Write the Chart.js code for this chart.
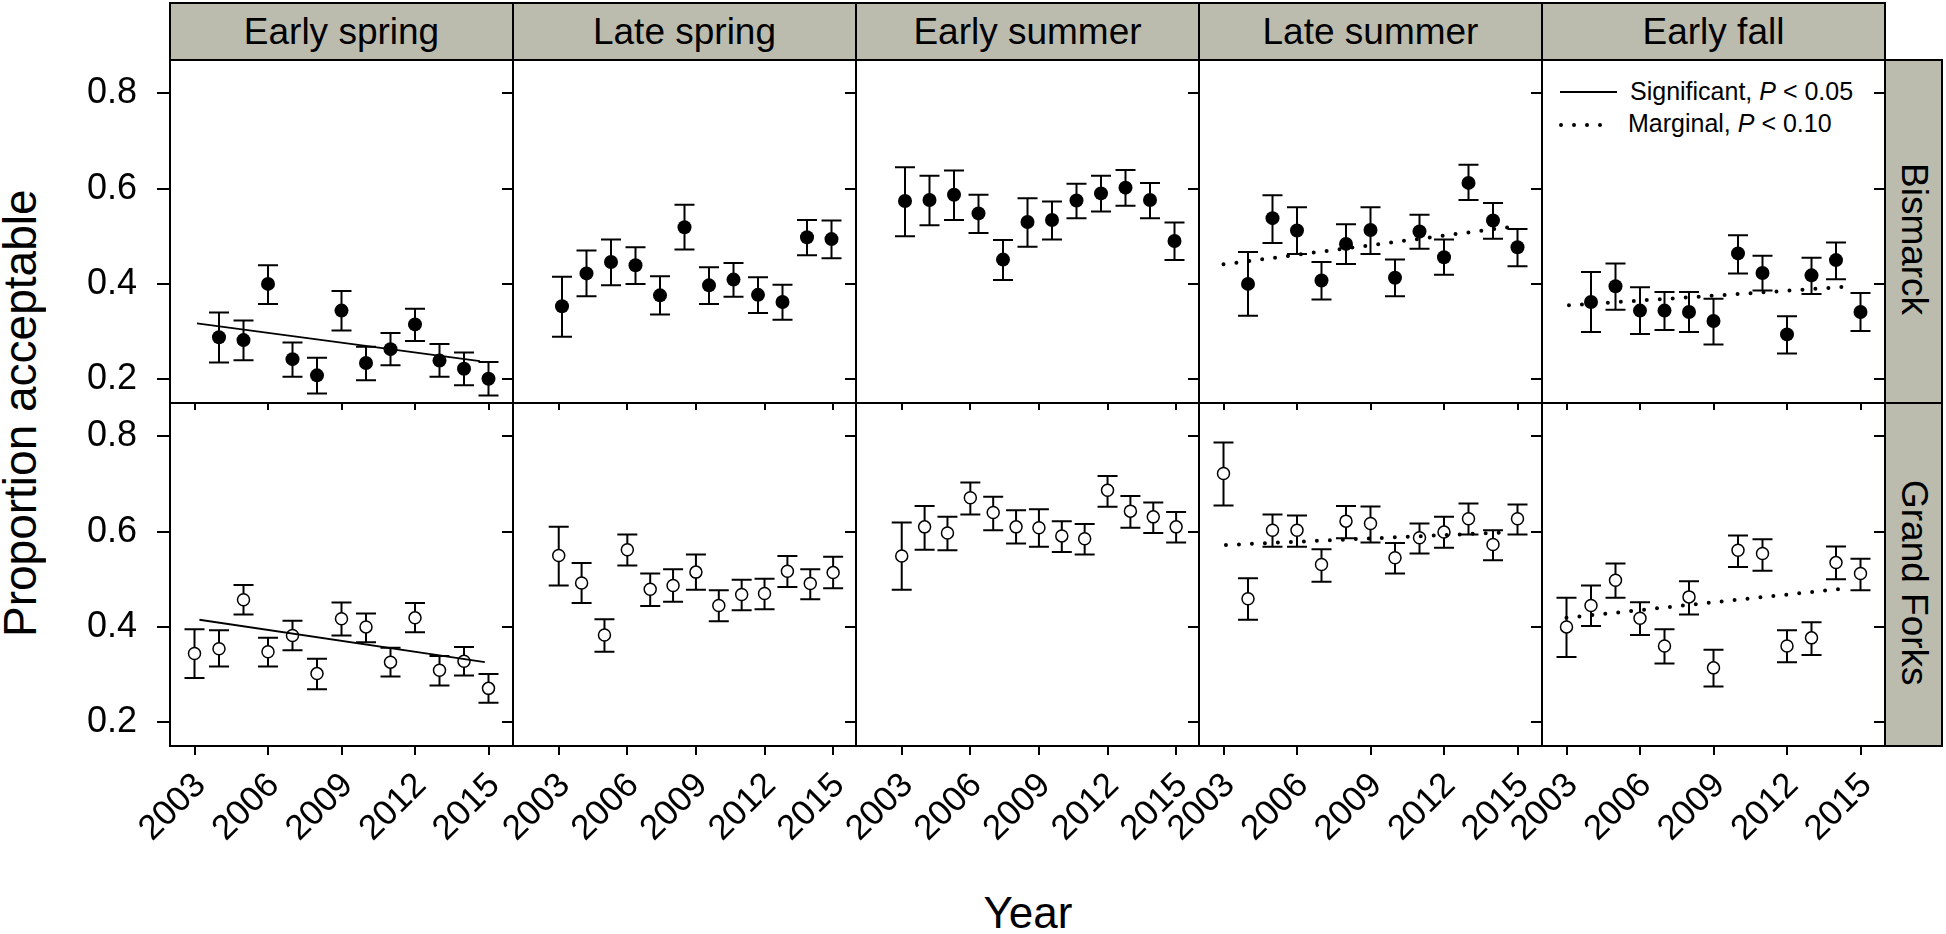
<!DOCTYPE html>
<html>
<head>
<meta charset="utf-8">
<script src="https://cdn.jsdelivr.net/npm/chart.js@4.4.1/dist/chart.umd.min.js"></script>
<style>
html,body{margin:0;padding:0;background:#fff;}
body{width:1946px;height:934px;position:relative;overflow:hidden;font-family:"Liberation Sans",Arial,sans-serif;color:#000;}
canvas{position:absolute;}
.strip{position:absolute;background:#bcbcae;border:2px solid #000;box-sizing:border-box;display:flex;align-items:center;justify-content:center;font-size:37px;white-space:nowrap;}
.vstrip{writing-mode:vertical-rl;padding-top:16px;}
#ylab{position:absolute;left:-3px;top:70px;height:686px;width:46px;writing-mode:vertical-rl;transform:rotate(180deg);text-align:center;line-height:46px;font-size:46px;white-space:nowrap;}
#xlab{position:absolute;left:828px;width:400px;top:891px;text-align:center;font-size:44px;line-height:44px;}
.legtxt{position:absolute;font-size:25px;line-height:25px;white-space:nowrap;}
#legsvg{position:absolute;left:1555px;top:80px;}
</style>
</head>
<body>
<div id="ylab">Proportion acceptable</div>
<div id="xlab">Year</div>
<svg id="legsvg" width="70" height="56">
  <line x1="5" y1="12" x2="62" y2="12" stroke="#000" stroke-width="1.8"/>
  <line x1="6" y1="45" x2="52" y2="45" stroke="#000" stroke-width="4" stroke-linecap="round" stroke-dasharray="0 13"/>
</svg>
<div class="legtxt" style="left:1630px;top:79px;">Significant, <i>P</i> &lt; 0.05</div>
<div class="legtxt" style="left:1628px;top:111px;">Marginal, <i>P</i> &lt; 0.10</div>
<script>
// ---------------- data ----------------
const seasons = ['Early spring', 'Late spring', 'Early summer', 'Late summer', 'Early fall'];
const sites = ['Bismarck', 'Grand Forks'];
const yTickValues = [0.2, 0.4, 0.6, 0.8];
const xTickValues = [2003, 2006, 2009, 2012, 2015];

const yearsBismarck = [2004, 2005, 2006, 2007, 2008, 2009, 2010, 2011, 2012, 2013, 2014, 2015];
const yearsGrandForks = [2003, 2004, 2005, 2006, 2007, 2008, 2009, 2010, 2011, 2012, 2013, 2014, 2015];

// Bismarck
const bisEarlySpring   = [0.288, 0.282, 0.400, 0.242, 0.208, 0.344, 0.234, 0.263, 0.315, 0.239, 0.222, 0.201];
const bisEarlySpringLo = [0.235, 0.240, 0.358, 0.205, 0.170, 0.302, 0.198, 0.229, 0.280, 0.205, 0.187, 0.166];
const bisEarlySpringHi = [0.340, 0.323, 0.439, 0.277, 0.245, 0.385, 0.268, 0.297, 0.348, 0.274, 0.256, 0.236];

const bisLateSpring   = [0.353, 0.422, 0.446, 0.439, 0.376, 0.519, 0.397, 0.409, 0.377, 0.362, 0.498, 0.494];
const bisLateSpringLo = [0.289, 0.374, 0.397, 0.400, 0.336, 0.472, 0.358, 0.373, 0.339, 0.325, 0.460, 0.454];
const bisLateSpringHi = [0.415, 0.470, 0.493, 0.477, 0.416, 0.566, 0.435, 0.444, 0.414, 0.398, 0.534, 0.533];

const bisEarlySummer   = [0.574, 0.576, 0.587, 0.548, 0.451, 0.530, 0.534, 0.575, 0.590, 0.602, 0.576, 0.490];
const bisEarlySummerLo = [0.500, 0.523, 0.534, 0.507, 0.408, 0.478, 0.493, 0.538, 0.552, 0.564, 0.538, 0.450];
const bisEarlySummerHi = [0.645, 0.627, 0.638, 0.587, 0.492, 0.580, 0.573, 0.610, 0.627, 0.639, 0.612, 0.529];

const bisLateSummer   = [0.400, 0.538, 0.512, 0.407, 0.484, 0.513, 0.413, 0.510, 0.456, 0.612, 0.533, 0.477];
const bisLateSummerLo = [0.333, 0.486, 0.463, 0.367, 0.442, 0.463, 0.374, 0.474, 0.419, 0.576, 0.495, 0.437];
const bisLateSummerHi = [0.467, 0.586, 0.561, 0.446, 0.525, 0.561, 0.451, 0.545, 0.493, 0.650, 0.570, 0.515];

const bisEarlyFall   = [0.362, 0.395, 0.344, 0.344, 0.341, 0.322, 0.464, 0.423, 0.294, 0.418, 0.450, 0.341];
const bisEarlyFallLo = [0.299, 0.346, 0.295, 0.303, 0.299, 0.273, 0.422, 0.386, 0.254, 0.379, 0.410, 0.301];
const bisEarlyFallHi = [0.425, 0.443, 0.393, 0.383, 0.383, 0.369, 0.502, 0.459, 0.332, 0.455, 0.487, 0.381];

// Grand Forks
const gfEarlySpring   = [0.344, 0.354, 0.457, 0.348, 0.382, 0.302, 0.417, 0.400, 0.326, 0.419, 0.309, 0.328, 0.271];
const gfEarlySpringLo = [0.293, 0.317, 0.426, 0.317, 0.351, 0.269, 0.382, 0.368, 0.296, 0.389, 0.277, 0.298, 0.241];
const gfEarlySpringHi = [0.395, 0.393, 0.488, 0.377, 0.413, 0.333, 0.451, 0.428, 0.356, 0.450, 0.339, 0.358, 0.301];

const gfLateSpring   = [0.550, 0.492, 0.383, 0.562, 0.479, 0.487, 0.515, 0.445, 0.468, 0.470, 0.517, 0.491, 0.514];
const gfLateSpringLo = [0.487, 0.450, 0.348, 0.529, 0.444, 0.453, 0.478, 0.412, 0.435, 0.437, 0.484, 0.458, 0.481];
const gfLateSpringHi = [0.610, 0.534, 0.416, 0.594, 0.512, 0.521, 0.552, 0.477, 0.499, 0.501, 0.549, 0.521, 0.547];

const gfEarlySummer   = [0.549, 0.610, 0.597, 0.671, 0.640, 0.610, 0.608, 0.591, 0.585, 0.687, 0.643, 0.631, 0.610];
const gfEarlySummerLo = [0.478, 0.562, 0.561, 0.636, 0.603, 0.575, 0.568, 0.557, 0.552, 0.652, 0.608, 0.597, 0.577];
const gfEarlySummerHi = [0.619, 0.654, 0.631, 0.703, 0.673, 0.645, 0.647, 0.622, 0.616, 0.717, 0.675, 0.661, 0.641];

const gfLateSummer   = [0.722, 0.459, 0.603, 0.603, 0.531, 0.622, 0.617, 0.545, 0.587, 0.599, 0.627, 0.573, 0.627];
const gfLateSummerLo = [0.655, 0.415, 0.568, 0.568, 0.495, 0.586, 0.577, 0.512, 0.554, 0.566, 0.594, 0.540, 0.594];
const gfLateSummerHi = [0.787, 0.502, 0.636, 0.634, 0.563, 0.654, 0.653, 0.576, 0.617, 0.631, 0.659, 0.603, 0.657];

const gfEarlyFall   = [0.400, 0.445, 0.498, 0.418, 0.360, 0.463, 0.314, 0.561, 0.554, 0.360, 0.377, 0.535, 0.512];
const gfEarlyFallLo = [0.337, 0.402, 0.461, 0.383, 0.323, 0.426, 0.275, 0.526, 0.518, 0.326, 0.341, 0.500, 0.477];
const gfEarlyFallHi = [0.461, 0.487, 0.533, 0.452, 0.395, 0.496, 0.352, 0.592, 0.584, 0.393, 0.410, 0.569, 0.543];

// fitted trend lines (end points)
const trendBisEarlySpringX = [2003.1, 2014.65];
const trendBisEarlySpringY = [0.317, 0.238];
const trendBisLateSummerX  = [2003.0, 2014.63];
const trendBisLateSummerY  = [0.441, 0.519];
const trendBisEarlyFallX   = [2003.1, 2014.7];
const trendBisEarlyFallY   = [0.355, 0.395];
const trendGfEarlySpringX  = [2003.2, 2014.85];
const trendGfEarlySpringY  = [0.415, 0.326];
const trendGfLateSummerX   = [2003.1, 2014.73];
const trendGfLateSummerY   = [0.572, 0.599];
const trendGfEarlyFallX    = [2003.0, 2014.6];
const trendGfEarlyFallY    = [0.419, 0.482];

// ---------------- layout ----------------
const FONT = '"Liberation Sans", Arial, sans-serif';
const colX = [170, 513, 856, 1199, 1542, 1885];
const rowY = [60, 403, 746];
// x axis ranges: data axis and tick axis (columns 2 and 3 were drawn on a shifted tick scale)
const dataXMin = [[2002, 2002, 2002, 2002, 2002], [2002, 2001, 2001, 2002, 2002]];
const tickXMin = [2002, 2001, 2001, 2002, 2002];

const panels = [
  {r:0, c:0, years: yearsBismarck, mean: bisEarlySpring, lo: bisEarlySpringLo, hi: bisEarlySpringHi, tx: trendBisEarlySpringX, ty: trendBisEarlySpringY, dotted: false},
  {r:0, c:1, years: yearsBismarck, mean: bisLateSpring, lo: bisLateSpringLo, hi: bisLateSpringHi},
  {r:0, c:2, years: yearsBismarck, mean: bisEarlySummer, lo: bisEarlySummerLo, hi: bisEarlySummerHi},
  {r:0, c:3, years: yearsBismarck, mean: bisLateSummer, lo: bisLateSummerLo, hi: bisLateSummerHi, tx: trendBisLateSummerX, ty: trendBisLateSummerY, dotted: true},
  {r:0, c:4, years: yearsBismarck, mean: bisEarlyFall, lo: bisEarlyFallLo, hi: bisEarlyFallHi, tx: trendBisEarlyFallX, ty: trendBisEarlyFallY, dotted: true},
  {r:1, c:0, years: yearsGrandForks, mean: gfEarlySpring, lo: gfEarlySpringLo, hi: gfEarlySpringHi, tx: trendGfEarlySpringX, ty: trendGfEarlySpringY, dotted: false},
  {r:1, c:1, years: yearsGrandForks, mean: gfLateSpring, lo: gfLateSpringLo, hi: gfLateSpringHi},
  {r:1, c:2, years: yearsGrandForks, mean: gfEarlySummer, lo: gfEarlySummerLo, hi: gfEarlySummerHi},
  {r:1, c:3, years: yearsGrandForks, mean: gfLateSummer, lo: gfLateSummerLo, hi: gfLateSummerHi, tx: trendGfLateSummerX, ty: trendGfLateSummerY, dotted: true},
  {r:1, c:4, years: yearsGrandForks, mean: gfEarlyFall, lo: gfEarlyFallLo, hi: gfEarlyFallHi, tx: trendGfEarlyFallX, ty: trendGfEarlyFallY, dotted: true}
];

// strips
seasons.forEach((s, c) => {
  const d = document.createElement('div');
  d.className = 'strip';
  d.style.left = (colX[c] - 1) + 'px';
  d.style.top = '2px';
  d.style.width = (colX[c + 1] - colX[c] + 2) + 'px';
  d.style.height = (rowY[0] - 2 + 1) + 'px';
  d.textContent = s;
  document.body.appendChild(d);
});
sites.forEach((s, r) => {
  const d = document.createElement('div');
  d.className = 'strip vstrip';
  d.style.left = (colX[5] - 1) + 'px';
  d.style.top = (rowY[r] - 1) + 'px';
  d.style.width = '59px';
  d.style.height = (rowY[r + 1] - rowY[r] + 2) + 'px';
  d.textContent = s;
  document.body.appendChild(d);
});

function makePanel(p) {
  const {r, c} = p;
  const L = c === 0 ? 170 : 0;
  const padL = c === 0 ? 0 : (r === 1 ? 100 : 2);
  const B = r === 1 ? 188 : 12;
  const pw = colX[c + 1] - colX[c];
  const ph = rowY[r + 1] - rowY[r];
  const cv = document.createElement('canvas');
  const W = pw + L + padL + 2, H = ph + 2 + B;
  cv.width = W; cv.height = H;
  cv.style.width = W + 'px'; cv.style.height = H + 'px';
  cv.style.left = (colX[c] - L - padL) + 'px';
  cv.style.top = (rowY[r] - 2) + 'px';
  document.body.appendChild(cv);

  const open = r === 1;
  const datasets = [];
  if (p.tx) {
    datasets.push({
      type: 'line', order: 0,
      data: p.tx.map((x, i) => ({x: x, y: p.ty[i]})),
      borderColor: '#000', backgroundColor: '#000',
      borderWidth: p.dotted ? 4 : 1.8,
      borderDash: p.dotted ? [0, 13] : [],
      borderCapStyle: p.dotted ? 'round' : 'butt',
      pointRadius: 0, fill: false, tension: 0,
      xAxisID: 'x', yAxisID: 'y'
    });
  }
  datasets.push({
    type: 'scatter', order: 1,
    data: p.years.map((yr, i) => ({x: yr, y: p.mean[i]})),
    pointRadius: open ? 6 : 7,
    pointBorderWidth: open ? 1.5 : 0,
    pointBackgroundColor: open ? '#fff' : '#000',
    pointBorderColor: '#000',
    showLine: false,
    xAxisID: 'x', yAxisID: 'y'
  });

  const deco = {
    id: 'deco' + r + c,
    beforeDatasetsDraw(chart) {
      const ctx = chart.ctx, xs = chart.scales.x, ys = chart.scales.y;
      ctx.save();
      ctx.strokeStyle = '#000'; ctx.lineWidth = 2; ctx.lineCap = 'butt';
      p.years.forEach((yr, i) => {
        const px = xs.getPixelForValue(yr);
        const pl = ys.getPixelForValue(p.lo[i]);
        const pu = ys.getPixelForValue(p.hi[i]);
        ctx.beginPath();
        ctx.moveTo(px, pl); ctx.lineTo(px, pu);
        ctx.moveTo(px - 10, pl); ctx.lineTo(px + 10, pl);
        ctx.moveTo(px - 10, pu); ctx.lineTo(px + 10, pu);
        ctx.stroke();
      });
      ctx.restore();
    },
    afterDraw(chart) {
      const ctx = chart.ctx, a = chart.chartArea, ys = chart.scales.y;
      ctx.save();
      ctx.strokeStyle = '#000'; ctx.lineWidth = 2;
      ctx.strokeRect(a.left, a.top, a.right - a.left, a.bottom - a.top);
      ctx.beginPath();
      yTickValues.forEach(v => {
        const py = Math.round(ys.getPixelForValue(v));
        ctx.moveTo(a.right - 11, py); ctx.lineTo(a.right, py);
      });
      ctx.stroke();
      ctx.restore();
    }
  };

  new Chart(cv, {
    type: 'scatter',
    data: {datasets},
    plugins: [deco],
    options: {
      responsive: false, animation: false, events: [], devicePixelRatio: 1,
      layout: {autoPadding: false, padding: {left: padL, right: 2, top: 2, bottom: 0}},
      plugins: {legend: {display: false}, tooltip: {enabled: false}},
      scales: {
        x: {type: 'linear', axis: 'x', position: 'bottom', display: false, min: dataXMin[r][c], max: 2016},
        xt: {
          type: 'linear', axis: 'x', position: 'bottom', display: true,
          min: tickXMin[c], max: 2016,
          afterBuildTicks: s => { s.ticks = xTickValues.map(v => ({value: v})); },
          afterFit: s => { s.height = B; s.paddingLeft = 0; s.paddingRight = 0; s.paddingTop = 0; s.paddingBottom = 0; },
          border: {display: false},
          grid: {drawOnChartArea: false, drawTicks: true, tickLength: r === 1 ? 9 : 7, tickColor: '#000', tickWidth: 2, color: '#000', lineWidth: 2},
          ticks: {display: r === 1, autoSkip: false, maxRotation: 45, minRotation: 45, padding: 10, labelOffset: 6,
                  color: '#000', font: {family: FONT, size: 35}, callback: v => String(v)}
        },
        y: {
          type: 'linear', position: 'left', display: c === 0,
          min: 0.15, max: 0.87,
          afterBuildTicks: s => { s.ticks = yTickValues.map(v => ({value: v})); },
          afterFit: s => { s.width = L; s.paddingTop = 0; s.paddingBottom = 0; s.paddingLeft = 0; s.paddingRight = 0; },
          border: {display: false},
          grid: {drawOnChartArea: false, drawTicks: true, tickLength: 13, tickColor: '#000', tickWidth: 2, color: '#000', lineWidth: 2},
          ticks: {padding: 20, color: '#000', font: {family: FONT, size: 36}, callback: v => v.toFixed(1)}
        }
      }
    }
  });
}
panels.forEach(makePanel);
</script>
</body>
</html>
